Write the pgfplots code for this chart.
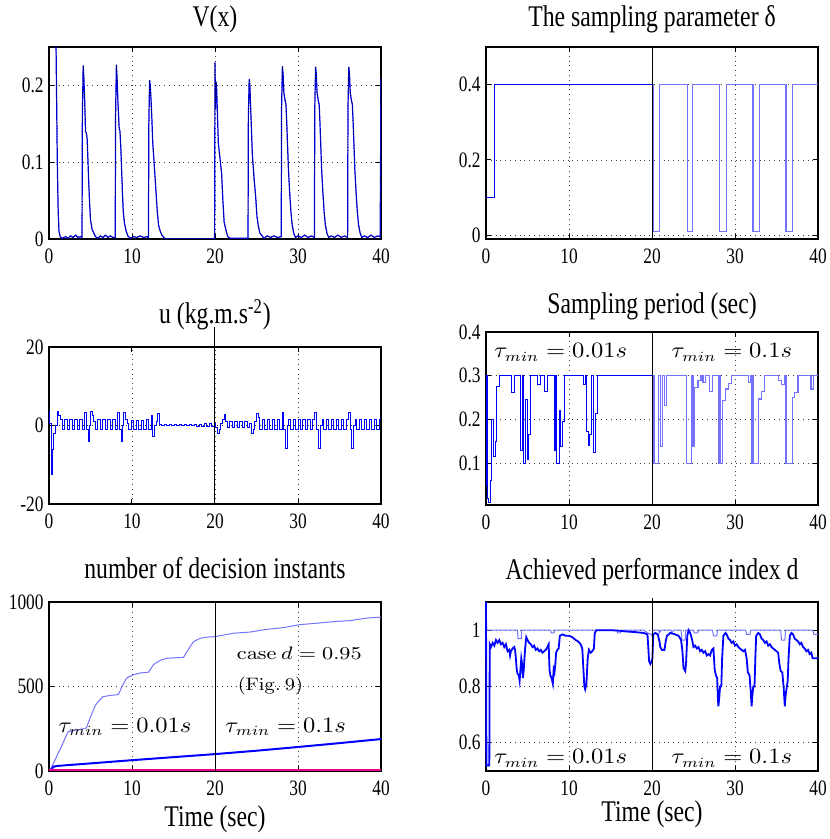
\documentclass[border=0pt]{standalone}
\usepackage[no-math]{fontspec}
\setmainfont{Liberation Serif}[FakeStretch=0.79]
\usepackage{pgfplots}
\pgfplotsset{compat=1.18}
\definecolor{lblue}{RGB}{115,115,255}
\pgfplotsset{
  panel/.style={
    scale only axis, width=166pt,
    xmin=0, xmax=40, xtick={0,10,20,30,40},
    grid=major, major grid style={dotted, black!75},
    tick align=inside, major tick length=2.5pt,
    axis line style={line width=0.7pt},
    tick style={black, line width=0.5pt},
    tick label style={font=\fontsize{11}{13}\selectfont},
    /pgf/number format/assume math mode=true,
    /pgf/number format/1000 sep={},
    xticklabel style={inner sep=0pt, yshift=-4.5pt},
    yticklabel style={inner sep=0pt, xshift=-2.5pt},
    title style={font=\fontsize{15}{18}\selectfont, at={(axis description cs:0.5,1)}, anchor=base},
    xlabel style={font=\fontsize{15}{18}\selectfont, at={(axis description cs:0.5,0)}, anchor=base, inner sep=0pt},
  },
}
\tikzset{tau/.style={font=\fontsize{10.5}{12}\selectfont}}
\newcommand{\tm}[1]{\scalebox{1.12}[1]{$\tau_{min} = #1s$}}
\begin{document}
\begin{tikzpicture}
\useasboundingbox (0,0) rectangle (414.5pt,419.5pt);
% ---------------- V(x)
\begin{axis}[panel, at={(24.5pt,300pt)}, anchor=south west, height=96pt,
  ymin=0, ymax=0.25, ytick={0,0.1,0.2},
  title={V(x)}, title style={yshift=4pt}]
\pgfplotstableread{
t v
0 0.6
0.8 0.3
0.9 0.2
1.0 0.1
1.1 0.04
1.2 0.01
1.35 0.003
1.6 0.001
2.0 0.003
2.3 0.001
2.6 0.004
2.9 0.002
3.2 0.005
3.5 0.002
3.8 0.003
3.98 0.002
4.02 0.16
4.12 0.226
4.2 0.21
4.3 0.18
4.4 0.14
4.5 0.138
4.6 0.13
4.7 0.1
4.8 0.07
4.9 0.045
5.0 0.025
5.2 0.012
5.4 0.008
5.6 0.003
5.9 0.001
6.2 0.004
6.5 0.002
6.8 0.005
7.1 0.002
7.4 0.004
7.7 0.002
7.98 0.002
8.02 0.16
8.12 0.227
8.2 0.21
8.3 0.18
8.45 0.145
8.55 0.14
8.65 0.12
8.75 0.09
8.85 0.06
8.95 0.035
9.1 0.02
9.3 0.01
9.5 0.004
9.8 0.001
10.2 0.003
10.6 0.002
11.0 0.004
11.4 0.002
11.8 0.003
11.98 0.002
12.03 0.15
12.12 0.207
12.2 0.2
12.3 0.18
12.4 0.155
12.5 0.125
12.6 0.11
12.75 0.085
12.9 0.06
13.05 0.035
13.2 0.018
13.4 0.01
13.6 0.005
13.9 0.001
14.3 0
19.95 0
20.0 0.23
20.05 0.17
20.12 0.205
20.2 0.195
20.3 0.16
20.4 0.125
20.5 0.115
20.65 0.1
20.8 0.085
20.95 0.05
21.1 0.022
21.25 0.015
21.4 0.008
21.55 0.003
21.8 0.001
22.5 0.001
23.5 0.001
23.98 0.001
24.02 0.16
24.12 0.208
24.2 0.2
24.3 0.17
24.5 0.11
24.7 0.08
24.9 0.055
25.05 0.03
25.2 0.018
25.4 0.008
25.6 0.005
25.9 0.001
26.3 0.004
26.7 0.002
27.1 0.004
27.5 0.002
27.98 0.003
28.02 0.17
28.12 0.225
28.2 0.215
28.3 0.19
28.45 0.18
28.55 0.175
28.65 0.15
28.75 0.12
28.85 0.09
29.0 0.06
29.15 0.035
29.3 0.018
29.5 0.007
29.7 0.002
30.0 0.004
30.4 0.002
30.8 0.005
31.2 0.002
31.6 0.004
31.98 0.002
32.02 0.17
32.12 0.224
32.2 0.215
32.3 0.19
32.45 0.18
32.55 0.175
32.65 0.15
32.75 0.12
32.85 0.09
33.0 0.06
33.15 0.035
33.3 0.018
33.5 0.007
33.7 0.002
34.0 0.004
34.4 0.002
34.8 0.005
35.2 0.002
35.6 0.004
35.98 0.002
36.02 0.17
36.12 0.224
36.2 0.215
36.3 0.19
36.45 0.18
36.55 0.175
36.65 0.15
36.75 0.12
36.85 0.09
37.0 0.06
37.15 0.035
37.3 0.018
37.5 0.007
37.7 0.002
38.0 0.004
38.4 0.002
38.8 0.005
39.2 0.002
39.6 0.004
39.9 0.003
40 0.21
}\Vtab
\addplot[blue, line width=0.6pt] table[x=t,y=v] {\Vtab};
\addplot[black, densely dotted, line width=0.4pt] table[x=t,y=v] {\Vtab};
\end{axis}
% ---------------- delta
\begin{axis}[panel, at={(243pt,300pt)}, anchor=south west, height=96pt,
  ymin=-0.01, ymax=0.5, ytick={0,0.2,0.4},
  title={The sampling parameter δ}, title style={yshift=4pt}]
\addplot[blue, line width=0.5pt, const plot] coordinates {
(0,0.1) (1.0,0.4) (20,0.4)};
\addplot[lblue, line width=0.6pt, const plot] coordinates {
(20,0.4) (20.2,0.01) (20.9,0.4) (24.25,0.01) (24.86,0.4) (28.15,0.01) (28.95,0.4)
(32.17,0.01) (32.93,0.4) (36.14,0.01) (36.95,0.4) (40,0.4)};
\addplot[black, line width=0.5pt] coordinates {(20,-0.01) (20,0.5)};
\end{axis}
% ---------------- u
\begin{axis}[panel, at={(24.5pt,167.5pt)}, anchor=south west, height=78.5pt,
  ymin=-20, ymax=20, ytick={-20,0,20}, clip=false,
  title={u (kg.m.s\textsuperscript{-2})}, title style={yshift=5.7pt}]
\addplot[blue, line width=0.5pt, const plot] coordinates {
(0,3.5) (0.1,0.5) (0.3,-12.5) (0.45,-6) (0.6,-2) (0.75,0) (1.0,3.5) (1.2,2.5) (1.4,1.5)
(1.6,-1) (1.9,1.5) (2.2,-1) (2.5,1.5) (2.8,-1) (3.1,1.5) (3.4,-1) (3.7,1.5) (4.0,-1)
(4.3,3.3) (4.5,-1) (4.7,-4) (4.85,0) (5.0,3.5) (5.2,2.5) (5.4,1) (5.6,-1) (5.9,1.5)
(6.2,-1) (6.5,1.5) (6.8,-1) (7.1,1.5) (7.4,-1) (7.7,1.5) (8.0,-1) (8.3,3.2) (8.5,-1)
(8.7,-4) (8.85,0) (9.0,3.3) (9.2,1.5) (9.4,0.5) (9.6,-1) (9.9,1.2) (10.2,-1) (10.5,1.2)
(10.8,-1) (11.1,1.2) (11.4,-1) (11.7,1.5) (12.0,-1) (12.3,2.5) (12.5,-2.8) (12.7,0)
(12.9,1) (13.1,3) (13.3,0.2) (13.6,-0.1) (13.9,0.2) (14.2,-0.1) (14.5,0.2) (14.8,-0.1)
(15.1,0.2) (15.4,-0.1) (15.7,0.25) (16.0,-0.1) (16.3,0.25) (16.6,-0.1) (16.9,0.3)
(17.2,-0.1) (17.5,0.3) (17.8,-0.15) (18.1,0.35) (18.4,-0.15) (18.7,0.4) (19.0,-0.2)
(19.3,0.5) (19.6,-0.2) (19.9,0.6) (20.1,-0.5) (20.3,-2) (20.5,-1) (20.7,0.5) (20.9,1.5)
(21.1,2.7) (21.3,1.0) (21.5,-0.5) (21.8,1) (22.1,-0.5) (22.4,1) (22.7,-0.5) (23.0,1)
(23.3,-0.5) (23.6,1) (23.9,-0.5) (24.2,0.5) (24.4,-2) (24.6,-1) (24.8,1) (25.0,3)
(25.2,2) (25.4,-1) (25.7,1.5) (26.0,-1) (26.3,1.5) (26.6,-1) (26.9,1.5) (27.2,-1)
(27.5,1.5) (27.8,-1) (28.1,3.2) (28.3,-1) (28.5,-5.8) (28.7,0) (28.9,1.5) (29.1,-1)
(29.4,1.5) (29.7,-1) (30.0,1.5) (30.3,-1) (30.6,1.5) (30.9,-1) (31.2,1.5) (31.5,-1)
(31.8,1.5) (32.0,3.2) (32.2,-1) (32.5,-5.8) (32.7,0) (32.9,1.5) (33.1,-1) (33.4,1.5)
(33.7,-1) (34.0,1.5) (34.3,-1) (34.6,1.5) (34.9,-1) (35.2,1.5) (35.5,-1) (35.8,1.5)
(36.1,3.2) (36.3,-1) (36.5,-5.8) (36.7,0) (36.9,1.5) (37.1,-1) (37.4,1.5) (37.7,-1)
(38.0,1.5) (38.3,-1) (38.6,1.5) (38.9,-1) (39.2,1.5) (39.5,-1) (39.8,1.5) (40,1.5)};
\addplot[black, line width=0.5pt] coordinates {(20,-20) (20,25)};
\end{axis}
% ---------------- sampling period
\begin{axis}[panel, at={(243pt,167pt)}, anchor=south west, height=86.5pt,
  ymin=0.005, ymax=0.4, ytick={0.1,0.2,0.3,0.4},
  title={Sampling period (sec)}, title style={yshift=3.3pt}]
\addplot[blue, line width=0.5pt, const plot] coordinates {
(0,0.3) (0.05,0.05) (0.12,0.3) (0.2,0.02) (0.35,0.01) (0.5,0.02) (0.6,0.06) (0.7,0.2)
(0.95,0.115) (1.1,0.15) (1.3,0.275) (1.6,0.3) (3.1,0.262) (3.45,0.3) (4.2,0.13)
(4.45,0.3) (4.55,0.1) (4.75,0.245) (4.95,0.11) (5.1,0.165) (5.35,0.3) (6.25,0.281)
(6.55,0.3) (7.0,0.263) (7.4,0.3) (8.2,0.13) (8.4,0.3) (8.55,0.1) (8.8,0.22) (9.0,0.138)
(9.2,0.195) (9.45,0.3) (11.7,0.28) (12.0,0.3) (12.15,0.172) (12.35,0.14) (12.5,0.165)
(12.7,0.3) (12.9,0.125) (13.15,0.215) (13.4,0.3) (20,0.3)};
\addplot[lblue, line width=0.6pt, const plot] coordinates {
(20,0.3) (20.25,0.1) (20.75,0.3) (21.05,0.138) (21.25,0.3) (21.55,0.233) (21.75,0.3)
(24.15,0.1) (24.8,0.3) (24.95,0.138) (25.15,0.274) (25.55,0.29) (25.9,0.3) (26.15,0.285)
(26.45,0.3) (26.95,0.264) (27.25,0.3) (28.05,0.1) (28.15,0.3) (28.2,0.1) (28.45,0.243)
(28.85,0.27) (29.2,0.282) (29.6,0.3) (31.6,0.285) (31.9,0.3) (32.05,0.1) (32.15,0.3)
(32.2,0.1) (32.8,0.247) (33.2,0.265) (33.6,0.3) (35.2,0.29) (35.6,0.28) (35.95,0.3)
(36.05,0.1) (36.15,0.3) (36.2,0.1) (36.9,0.25) (37.2,0.262) (37.6,0.3) (39.15,0.27)
(39.45,0.3) (40,0.3)};
\addplot[black, line width=0.5pt] coordinates {(20,0.005) (20,0.4)};
\node[tau] at (axis cs:9,0.353) {\tm{0.01}};
\node[tau] at (axis cs:29.6,0.353) {\tm{0.1}};
\end{axis}
% ---------------- number of decision instants
\begin{axis}[panel, at={(24.5pt,34pt)}, anchor=south west, height=84.5pt,
  ymin=0, ymax=1000, ytick={0,500,1000},
  title={number of decision instants}, title style={yshift=5.8pt},
  xlabel={Time (sec)}, xlabel style={yshift=-27.8pt}]
\addplot[lblue, line width=0.5pt] coordinates {
(0,0) (0.5,40) (1.0,95) (1.5,145) (2.0,200) (2.3,232) (3.0,240) (4.0,248) (4.5,255)
(5.0,320) (5.6,390) (6.1,420) (6.5,440) (7.5,448) (8.35,452) (8.9,510) (9.35,550)
(10.2,570) (11.0,580) (12.0,585) (12.6,630) (13.4,655) (14.2,667) (15.2,670) (16.2,672)
(16.8,720) (17.4,765) (18.2,785) (19.0,792) (20,795) (22.2,815) (24.2,822) (26.2,838)
(28.2,848) (30.2,866) (32.2,874) (34.3,884) (36.3,890) (38.3,905) (40,910)};
\addplot[blue, line width=1pt] coordinates {
(0,0) (0.3,5) (0.5,25) (1,30) (5,45) (10,64) (15,82) (20,100) (25,120) (30,142)
(35,165) (40,189)};
\addplot[magenta, line width=1.5pt] coordinates {(0,0) (40,0)};
\addplot[black, line width=0.5pt] coordinates {(20,0) (20,1000)};
\node[tau] at (axis cs:9.15,262) {\tm{0.01}};
\node[tau] at (axis cs:28.5,262) {\tm{0.1}};
\node[anchor=west, font=\fontsize{9.5}{11}\selectfont, inner sep=0pt] at (axis cs:22.6,696) {\scalebox{1.2}[1]{$\mathrm{case}\ d = 0.95$}};
\node[anchor=west, font=\fontsize{9.5}{11}\selectfont, inner sep=0pt] at (axis cs:22.7,503) {\scalebox{1.1}[1]{$(\mathrm{Fig.}\ 9)$}};
\end{axis}
% ---------------- performance index
\begin{axis}[panel, at={(243pt,34pt)}, anchor=south west, height=84.5pt,
  ymin=0.5, ymax=1.1, ytick={0.6,0.8,1}, clip=false,
  title={Achieved performance index d}, title style={yshift=5pt},
  xlabel={Time (sec)}, xlabel style={yshift=-25pt}]
\addplot[lblue, line width=0.5pt] coordinates {
(0,1.1) (0.1,1.0) (3.8,1.0) (3.85,0.97) (4.25,0.97) (4.3,1.0) (7.8,1.0) (7.85,0.99)
(8.2,0.99) (8.25,1.0) (15.8,1.0) (15.85,0.99) (16.2,0.99) (16.25,1.0) (19.0,1.0)
(19.5,0.99) (19.9,0.985) (20.0,0.98) (20.1,1.0) (20.8,1.0) (20.9,0.99) (21.1,1.0)
(22.3,1.0) (22.4,0.99) (22.6,1.0) (23.5,1.0) (23.6,0.965) (24.0,0.965) (24.05,1.0)
(25.0,1.0) (25.1,0.99) (25.5,0.99) (25.6,1.0) (27.3,1.0) (27.4,0.98) (27.8,0.98)
(27.9,1.0) (31.3,1.0) (31.4,0.985) (31.8,0.985) (31.9,1.0) (35.5,1.0) (35.6,0.965)
(36.0,0.965) (36.1,1.0) (39.4,1.0) (39.5,0.985) (40,0.985)};
\addplot[blue, line width=0.9pt] coordinates {
(0,1.1) (0.05,0.52) (0.4,0.52) (0.45,0.95) (0.6,0.94) (0.8,0.955) (1.0,0.945) (1.2,0.965)
(1.4,0.955) (1.6,0.965) (1.8,0.95) (2.0,0.955) (2.2,0.94) (2.4,0.95) (2.6,0.925)
(2.8,0.93) (2.9,0.91) (3.0,0.925) (3.2,0.935) (3.4,0.94) (3.5,0.93) (3.6,0.9) (3.7,0.86)
(3.8,0.845) (3.95,0.84) (4.05,0.82) (4.15,0.86) (4.25,0.9) (4.35,0.88) (4.45,0.83)
(4.55,0.86) (4.7,0.93) (4.85,0.975) (5.0,0.965) (5.2,0.955) (5.4,0.95) (5.6,0.94)
(5.8,0.945) (6.0,0.93) (6.2,0.935) (6.4,0.925) (6.6,0.93) (6.8,0.92) (7.0,0.925)
(7.2,0.93) (7.4,0.94) (7.55,0.95) (7.65,0.86) (7.75,0.84) (7.9,0.83) (8.05,0.81)
(8.15,0.86) (8.25,0.85) (8.35,0.88) (8.45,0.92) (8.6,0.93) (8.75,0.935) (8.9,0.98)
(9.2,0.985) (9.6,0.98) (10.0,0.98) (10.4,0.975) (10.8,0.965) (11.1,0.96) (11.4,0.95)
(11.6,0.935) (11.7,0.88) (11.85,0.8) (11.95,0.79) (12.1,0.81) (12.25,0.9) (12.4,0.93)
(12.6,0.92) (12.8,0.925) (13.0,0.935) (13.1,0.99) (13.3,1.0) (14,1.0) (15,1.0)
(16,0.998) (17,0.995) (18,0.993) (19,0.99) (19.45,0.985) (19.55,0.94) (19.65,0.89)
(19.8,0.88) (19.95,0.89) (20.05,0.9) (20.15,0.985) (20.4,0.99) (20.7,0.985) (20.9,0.96)
(21.0,0.94) (21.2,0.93) (21.5,0.93) (21.65,0.96) (21.8,0.98) (22.2,0.99) (22.8,0.985)
(23.2,0.98) (23.5,0.965) (23.65,0.93) (23.8,0.865) (24.0,0.855) (24.1,0.88) (24.25,0.98)
(24.4,1.0) (24.6,0.99) (24.8,0.97) (25.0,0.94) (25.2,0.945) (25.4,0.935) (25.6,0.94)
(25.8,0.925) (26.0,0.93) (26.2,0.92) (26.4,0.925) (26.6,0.91) (26.8,0.915) (27.0,0.91)
(27.2,0.93) (27.4,0.935) (27.55,0.86) (27.7,0.84) (27.85,0.83) (27.95,0.75) (28.0,0.73)
(28.1,0.76) (28.2,0.8) (28.35,0.8) (28.45,0.9) (28.6,0.98) (28.85,0.99) (29.0,0.985)
(29.2,0.97) (29.4,0.965) (29.6,0.955) (29.8,0.96) (30.0,0.945) (30.2,0.95) (30.4,0.94)
(30.6,0.935) (30.8,0.93) (31.0,0.925) (31.2,0.93) (31.4,0.9) (31.55,0.85) (31.75,0.84)
(31.9,0.78) (32.0,0.73) (32.1,0.77) (32.2,0.8) (32.35,0.8) (32.45,0.9) (32.55,0.98)
(32.8,0.99) (33.0,0.985) (33.2,0.97) (33.4,0.965) (33.6,0.955) (33.8,0.96) (34.0,0.945)
(34.2,0.95) (34.4,0.94) (34.6,0.935) (34.8,0.93) (35.0,0.925) (35.2,0.92) (35.35,0.88)
(35.5,0.855) (35.7,0.85) (35.85,0.8) (36.0,0.73) (36.1,0.77) (36.25,0.8) (36.35,0.82)
(36.45,0.9) (36.6,0.98) (36.8,0.99) (37.0,0.985) (37.2,0.97) (37.4,0.965) (37.6,0.96)
(37.8,0.95) (38.0,0.955) (38.2,0.94) (38.4,0.935) (38.6,0.925) (38.8,0.93) (39.0,0.915)
(39.2,0.92) (39.35,0.9) (40,0.9)};
\addplot[black, line width=0.5pt] coordinates {(20,0.5) (20,1.115)};
\node[tau] at (axis cs:9,0.545) {\tm{0.01}};
\node[tau] at (axis cs:29.6,0.545) {\tm{0.1}};
\end{axis}
\end{tikzpicture}
\end{document}
